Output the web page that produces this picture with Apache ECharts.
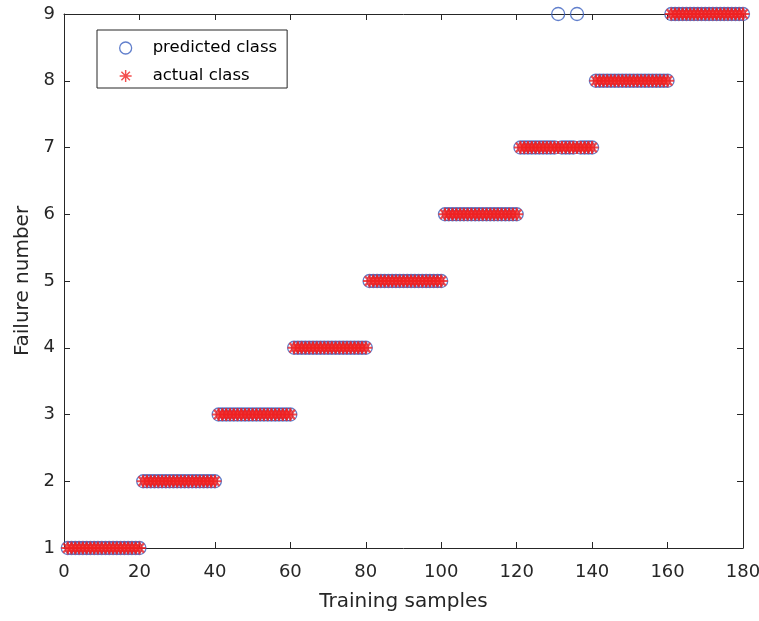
<!DOCTYPE html>
<html>
<head>
<meta charset="utf-8">
<script src="https://cdn.jsdelivr.net/npm/echarts@6/dist/echarts.min.js"></script>
<style>
html,body{margin:0;padding:0;background:#fff;}
#chart{width:759px;height:621px;}
</style>
</head>
<body>
<div id="chart"></div>
<script>
// Sample indices 1..180
var samples = [];
for (var i = 1; i <= 180; i++) samples.push(i);
// Actual class per sample (20 samples per class)
var actualClass = [
 1,1,1,1,1,1,1,1,1,1,1,1,1,1,1,1,1,1,1,1,
 2,2,2,2,2,2,2,2,2,2,2,2,2,2,2,2,2,2,2,2,
 3,3,3,3,3,3,3,3,3,3,3,3,3,3,3,3,3,3,3,3,
 4,4,4,4,4,4,4,4,4,4,4,4,4,4,4,4,4,4,4,4,
 5,5,5,5,5,5,5,5,5,5,5,5,5,5,5,5,5,5,5,5,
 6,6,6,6,6,6,6,6,6,6,6,6,6,6,6,6,6,6,6,6,
 7,7,7,7,7,7,7,7,7,7,7,7,7,7,7,7,7,7,7,7,
 8,8,8,8,8,8,8,8,8,8,8,8,8,8,8,8,8,8,8,8,
 9,9,9,9,9,9,9,9,9,9,9,9,9,9,9,9,9,9,9,9
];
// Predicted class per sample (samples 131 and 136 misclassified as 9)
var predictedClass = [
 1,1,1,1,1,1,1,1,1,1,1,1,1,1,1,1,1,1,1,1,
 2,2,2,2,2,2,2,2,2,2,2,2,2,2,2,2,2,2,2,2,
 3,3,3,3,3,3,3,3,3,3,3,3,3,3,3,3,3,3,3,3,
 4,4,4,4,4,4,4,4,4,4,4,4,4,4,4,4,4,4,4,4,
 5,5,5,5,5,5,5,5,5,5,5,5,5,5,5,5,5,5,5,5,
 6,6,6,6,6,6,6,6,6,6,6,6,6,6,6,6,6,6,6,6,
 7,7,7,7,7,7,7,7,7,7,9,7,7,7,7,9,7,7,7,7,
 8,8,8,8,8,8,8,8,8,8,8,8,8,8,8,8,8,8,8,8,
 9,9,9,9,9,9,9,9,9,9,9,9,9,9,9,9,9,9,9,9
];
var xTicks = [0,20,40,60,80,100,120,140,160,180];
var yTicks = [1,2,3,4,5,6,7,8,9];

// asterisk marker path (8 spokes)
function asteriskPath(w){
  var parts = [];
  var c = 10, L = 10;
  for (var k = 0; k < 4; k++) {
    var a = k * Math.PI / 4;
    var dx = Math.cos(a), dy = Math.sin(a);
    var px = -dy * w, py = dx * w;
    var p = [
      [c + dx*L + px, c + dy*L + py],
      [c + dx*L - px, c + dy*L - py],
      [c - dx*L - px, c - dy*L - py],
      [c - dx*L + px, c - dy*L + py]
    ];
    parts.push('M' + p.map(function(q){return q[0].toFixed(2)+' '+q[1].toFixed(2);}).join(' L') + ' Z');
  }
  return 'path://' + parts.join(' ');
}
var starBold = asteriskPath(1.7);
var starLegend = asteriskPath(1.2);

var predData = samples.map(function(s,i){return [s, predictedClass[i]];});
var actData = samples.map(function(s,i){return [s, actualClass[i]];});

var FONT = 'DejaVu Sans, Liberation Sans, Arial, sans-serif';
var axisColor = '#262626';
var blue = '#3a5fbf';
var red = '#f02020';
var lbl = {color: axisColor, fontSize: 18, fontFamily: FONT};

var chart = echarts.init(document.getElementById('chart'));
chart.setOption({
  animation: false,
  backgroundColor: '#fff',
  grid: {left: 64, right: 16, top: 14, bottom: 73, containLabel: false, outerBoundsMode: 'none'},
  legend: {
    left: 97, top: 30,
    orient: 'vertical',
    backgroundColor: '#fff',
    borderColor: '#262626',
    borderWidth: 1,
    borderRadius: 0,
    padding: [8, 10, 2, 22],
    itemGap: 8,
    itemWidth: 12, itemHeight: 12,
    textStyle: {color: '#000', fontSize: 16.5, fontFamily: FONT, lineHeight: 20, padding: [0,0,0,16]},
    data: [
      {name: 'predicted class', icon: 'circle', itemStyle: {color: 'rgba(0,0,0,0)', borderColor: blue, borderWidth: 1.3}},
      {name: 'actual class', icon: starLegend, itemStyle: {color: red, borderWidth: 0}}
    ]
  },
  xAxis: [{
    type: 'value', min: 0, max: 180, interval: 20,
    name: 'Training samples', nameLocation: 'middle', nameGap: 44,
    nameTextStyle: {color: axisColor, fontSize: 20, fontFamily: FONT},
    axisLine: {show: true, onZero: false, lineStyle: {color: axisColor, width: 1}},
    axisTick: {show: true, inside: true, length: 6, lineStyle: {color: axisColor}},
    axisLabel: Object.assign({margin: 15, formatter: function(v){return xTicks.indexOf(v) >= 0 ? String(v) : '';}}, lbl),
    splitLine: {show: false}
  },{
    type: 'value', position: 'top', min: 0, max: 180, interval: 20,
    axisLine: {show: true, onZero: false, lineStyle: {color: axisColor, width: 1}},
    axisTick: {show: true, inside: true, length: 6, lineStyle: {color: axisColor}},
    axisLabel: {show: false}, splitLine: {show: false}
  }],
  yAxis: [{
    type: 'value', min: 1, max: 9, interval: 1,
    name: 'Failure number', nameLocation: 'middle', nameGap: 31,
    nameTextStyle: {color: axisColor, fontSize: 20, fontFamily: FONT},
    axisLine: {show: true, onZero: false, lineStyle: {color: axisColor, width: 1}},
    axisTick: {show: true, inside: true, length: 6, lineStyle: {color: axisColor}},
    axisLabel: Object.assign({margin: 9, formatter: function(v){return yTicks.indexOf(v) >= 0 ? String(v) : '';}}, lbl),
    splitLine: {show: false}
  },{
    type: 'value', position: 'right', min: 1, max: 9, interval: 1,
    axisLine: {show: true, onZero: false, lineStyle: {color: axisColor, width: 1}},
    axisTick: {show: true, inside: true, length: 6, lineStyle: {color: axisColor}},
    axisLabel: {show: false}, splitLine: {show: false}
  }],
  series: [
    {
      name: 'predicted class', type: 'scatter', data: predData,
      symbol: 'circle', symbolSize: 13,
      itemStyle: {color: 'rgba(0,0,0,0)', borderColor: blue, borderWidth: 1.3},
      z: 2, clip: false
    },
    {
      name: 'actual class', type: 'scatter', data: actData,
      symbol: starBold, symbolSize: 13,
      itemStyle: {color: red},
      z: 3, clip: false
    }
  ]
});
</script>
</body>
</html>
